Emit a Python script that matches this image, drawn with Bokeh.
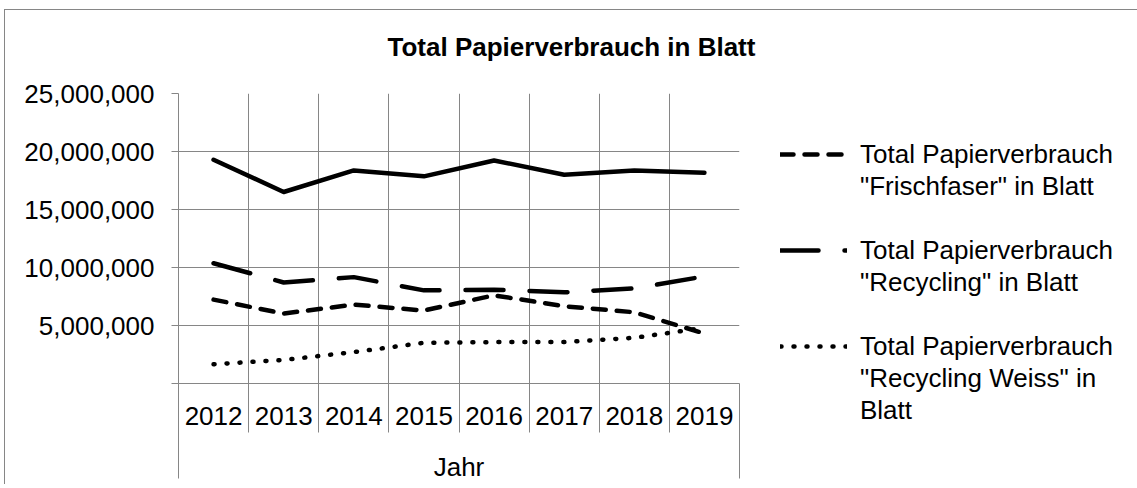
from bokeh.plotting import figure
from bokeh.models import (Range1d, LinearAxis, FixedTicker, NumeralTickFormatter,
                          Legend, LegendItem, Grid)
from bokeh.embed import file_html
from bokeh.resources import INLINE

# ---------------- data ----------------
years = ["2012", "2013", "2014", "2015", "2016", "2017", "2018", "2019"]
frischfaser = [7.23e6, 6.03e6, 6.80e6, 6.29e6, 7.60e6, 6.66e6, 6.14e6, 4.31e6]
recycling = [10.37e6, 8.71e6, 9.17e6, 8.03e6, 8.09e6, 7.86e6, 8.20e6, 9.23e6]
recycling_weiss = [1.66e6, 2.03e6, 2.71e6, 3.51e6, 3.57e6, 3.57e6, 3.94e6, 4.80e6]
total = [19.29e6, 16.51e6, 18.37e6, 17.86e6, 19.23e6, 18.00e6, 18.37e6, 18.17e6]
y_ticks = [0, 5_000_000, 10_000_000, 15_000_000, 20_000_000, 25_000_000]
title_text = "Total Papierverbrauch in Blatt"
group_label = "Jahr"
legend_frischfaser = ["Total Papierverbrauch", "\"Frischfaser\" in Blatt"]
legend_recycling = ["Total Papierverbrauch", "\"Recycling\" in Blatt"]
legend_weiss = ["Total Papierverbrauch", "\"Recycling Weiss\" in", "Blatt"]

# ---------------- styling ----------------
FONT = "Liberation Sans"
GRAY = "#868686"
FS = "26px"

n = len(years)
xs = [i + 0.5 for i in range(n)]

p = figure(frame_width=561, frame_height=290,
           x_range=Range1d(0, n), y_range=Range1d(0, y_ticks[-1]),
           output_backend="svg", toolbar_location=None,
           x_axis_location=None, y_axis_location=None,
           min_border_left=178, min_border_right=0,
           min_border_top=93, min_border_bottom=100,
           outline_line_color=None,
           background_fill_alpha=0, border_fill_alpha=0)
# chart-area border (left and top edges) drawn as CSS background lines
p.styles = {
    "background": (f"linear-gradient({GRAY},{GRAY}) 4px 9px / 1px 100% no-repeat, "
                   f"linear-gradient({GRAY},{GRAY}) 4px 9px / 100% 1px no-repeat, white"),
}
p.center = []

# grids
p.add_layout(Grid(dimension=0, ticker=FixedTicker(ticks=list(range(n + 1))),
                  grid_line_color=GRAY, grid_line_width=1))
p.add_layout(Grid(dimension=1, ticker=FixedTicker(ticks=y_ticks[1:]),
                  grid_line_color=GRAY, grid_line_width=1))

# y axis
yaxis = LinearAxis(ticker=FixedTicker(ticks=y_ticks),
                   formatter=NumeralTickFormatter(format="0,0"),
                   major_label_overrides={0: ""},
                   major_tick_out=7, major_tick_in=0,
                   minor_tick_out=0, minor_tick_in=0,
                   axis_line_color=GRAY, major_tick_line_color=GRAY,
                   major_label_standoff=17,
                   major_label_text_font=FONT, major_label_text_font_size=FS,
                   major_label_text_color="black")
p.add_layout(yaxis, "left")

# x axis: years with separators (minor ticks at category boundaries)
xaxis = LinearAxis(ticker=FixedTicker(ticks=xs, minor_ticks=list(range(n + 1))),
                   major_label_overrides={x: y for x, y in zip(xs, years)},
                   major_tick_out=0, major_tick_in=0,
                   minor_tick_out=49, minor_tick_in=0,
                   minor_tick_line_color=GRAY, axis_line_color=GRAY,
                   major_label_standoff=-26,
                   major_label_text_font=FONT, major_label_text_font_size=FS,
                   major_label_text_color="black")
p.add_layout(xaxis, "below")

# group axis: "Jahr"
gaxis = LinearAxis(ticker=FixedTicker(ticks=[n / 2], minor_ticks=[0, n]),
                   major_label_overrides={n / 2: group_label},
                   major_tick_out=0, major_tick_in=0,
                   minor_tick_out=51, minor_tick_in=0,
                   minor_tick_line_color=GRAY, axis_line_color=None,
                   major_label_standoff=-27,
                   major_label_text_font=FONT, major_label_text_font_size=FS,
                   major_label_text_color="black")
p.add_layout(gaxis, "below")

# lines
common = dict(line_color="black", line_width=4.5, line_cap="round", line_join="round")
r_total = p.line(xs, total, **common)
r_fr = p.line(xs, frischfaser, line_dash="13 11", **common)
r_rc = p.line(xs, recycling, line_dash="38 26", **common)
r_rw = p.line(xs, recycling_weiss, line_dash="1 12", **common)
blank = p.line(x=[], y=[], line_alpha=0)

# title
p.title.text = title_text
p.title.align = "left"
p.title.vertical_align = "top"
p.title.offset = 209
p.title.standoff = 60
p.title.text_font = FONT
p.title.text_font_size = FS
p.title.text_font_style = "bold"
p.title.text_color = "black"

# legend: each text line is its own row, blank rows separate the series
ROW = 32
items = []
groups = [(r_fr, legend_frischfaser), (r_rc, legend_recycling), (r_rw, legend_weiss)]
for k, (rend, lines) in enumerate(groups):
    for j, t in enumerate(lines):
        items.append(LegendItem(label=t, renderers=[rend if j == 0 else blank]))
    if k < len(groups) - 1:
        items.append(LegendItem(label=" ", renderers=[blank]))
n_rows = len(items)
legend_top_page = 138     # top of first row
frame_bottom_page = 383
leg = Legend(items=items, location=(41, frame_bottom_page - legend_top_page - ROW * n_rows),
             orientation="vertical",
             glyph_width=67, glyph_height=ROW, label_height=ROW,
             label_standoff=13, spacing=0, padding=0, margin=0,
             background_fill_alpha=0, border_line_alpha=0,
             label_text_font=FONT, label_text_font_size=FS,
             label_text_color="black")
p.add_layout(leg, "right")

open("out.html", "w").write(file_html(p, INLINE))
